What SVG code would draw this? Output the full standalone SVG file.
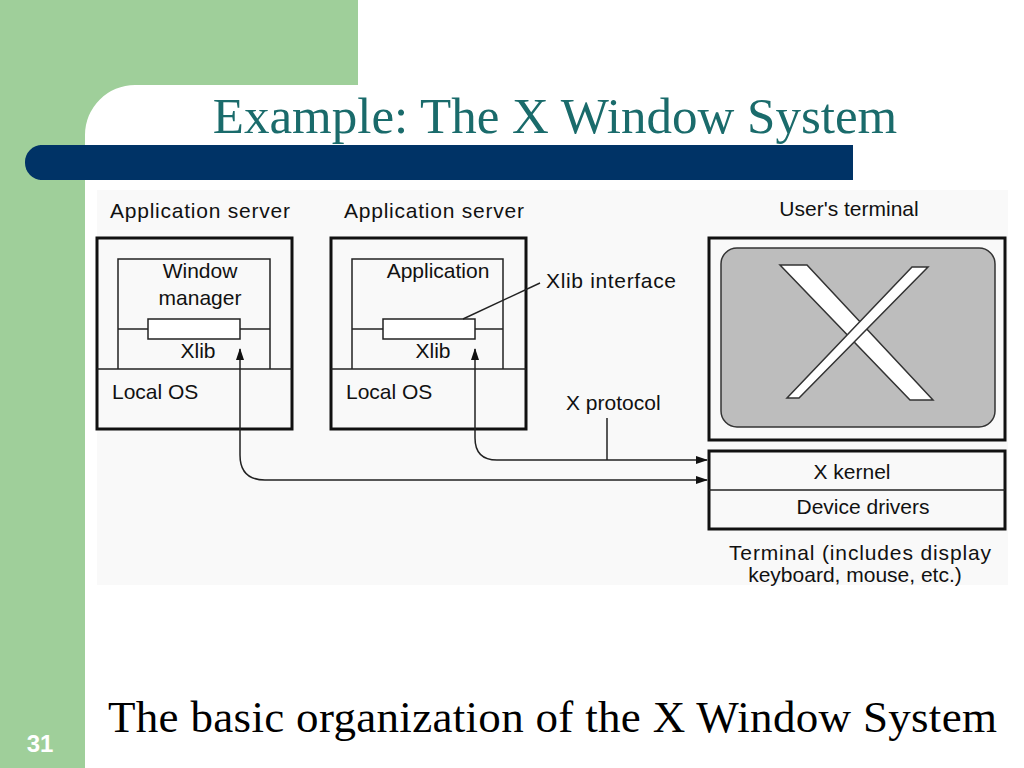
<svg xmlns="http://www.w3.org/2000/svg" width="1024" height="768" viewBox="0 0 1024 768">
<defs>
<marker id="ah" markerWidth="12" markerHeight="8" refX="11" refY="4" orient="auto-start-reverse" markerUnits="userSpaceOnUse"><path d="M0,0 L12,4 L0,8 Z" fill="#111"/></marker>
<style>
.t{font-family:"Liberation Sans",Arial,sans-serif;font-size:21px;fill:#111}
.b{fill:none;stroke:#111;stroke-width:3}
.thin{fill:none;stroke:#222;stroke-width:1.5}
.c{fill:none;stroke:#222;stroke-width:1.5}
</style>
</defs>
<rect width="1024" height="768" fill="#fff"/>
<rect x="0" y="0" width="358" height="85" fill="#9fcf9a"/>
<rect x="0" y="0" width="85" height="768" fill="#9fcf9a"/>
<path d="M85,85 L135,85 A50,50 0 0 0 85,135 Z" fill="#9fcf9a"/>
<rect x="25" y="145" width="828" height="35" rx="17" fill="#003366"/>
<rect x="40" y="145" width="813" height="35" fill="#003366"/>
<text x="555" y="133" text-anchor="middle" font-family="Liberation Serif,serif" font-size="51" fill="#1a6b6b">Example: The X Window System</text>
<rect x="97" y="190" width="911" height="395" fill="#f9f9f9"/>
<g id="server1">
<text class="t" x="110" y="218" textLength="180">Application server</text>
<rect class="b" x="97" y="238" width="195" height="191"/>
<line class="thin" x1="97" y1="369" x2="292" y2="369"/>
<path class="thin" d="M118,369 V259 H270 V369"/>
<line class="thin" x1="118" y1="329" x2="270" y2="329"/>
<rect x="148" y="319" width="92" height="20" fill="#fff" stroke="#222" stroke-width="1.5"/>
<text class="t" x="200" y="278" text-anchor="middle">Window</text>
<text class="t" x="200" y="305" text-anchor="middle">manager</text>
<text class="t" x="198" y="358" text-anchor="middle">Xlib</text>
<text class="t" x="112" y="399">Local OS</text>
</g>
<g id="server2">
<text class="t" x="344" y="218" textLength="180">Application server</text>
<rect class="b" x="331" y="238" width="195" height="191"/>
<line class="thin" x1="331" y1="369" x2="526" y2="369"/>
<path class="thin" d="M352,369 V259 H503 V369"/>
<line class="thin" x1="352" y1="329" x2="503" y2="329"/>
<rect x="383" y="319" width="92" height="20" fill="#fff" stroke="#222" stroke-width="1.5"/>
<text class="t" x="438" y="278" text-anchor="middle">Application</text>
<text class="t" x="433" y="358" text-anchor="middle">Xlib</text>
<text class="t" x="346" y="399">Local OS</text>
<line class="thin" x1="463" y1="319" x2="540" y2="283"/>
<text class="t" x="546" y="288" textLength="130">Xlib interface</text>
</g>
<g id="terminal">
<text class="t" x="849" y="216" text-anchor="middle">User's terminal</text>
<rect class="b" x="709" y="238" width="296" height="202"/>
<rect x="721" y="248" width="274" height="179" rx="16" fill="#bdbdbd" stroke="#333" stroke-width="1.5"/>
<polygon points="780,265 807,265 933,400 910,400" fill="#fff" stroke="#333" stroke-width="1.5"/>
<polygon points="912,267 928,267 799,398 787,398" fill="#fff" stroke="#333" stroke-width="1.5"/>
<rect class="b" x="709" y="451" width="296" height="78"/>
<line class="thin" x1="709" y1="490" x2="1005" y2="490"/>
<text class="t" x="852" y="479" text-anchor="middle">X kernel</text>
<text class="t" x="863" y="514" text-anchor="middle">Device drivers</text>
<text class="t" x="860" y="560" text-anchor="middle" textLength="262">Terminal (includes display</text>
<text class="t" x="855" y="582" text-anchor="middle">keyboard, mouse, etc.)</text>
</g>
<g id="connectors">
<path class="c" d="M240,349 V455 Q240,480 265,480 H707" marker-start="url(#ah)" marker-end="url(#ah)"/>
<path class="c" d="M475,349 V438 Q475,460 497,460 H707" marker-start="url(#ah)" marker-end="url(#ah)"/>
<line class="c" x1="607" y1="418" x2="607" y2="460"/>
<text class="t" x="566" y="410">X protocol</text>
</g>
<text x="108" y="732" font-family="Liberation Serif,serif" font-size="45" fill="#000" textLength="889">The basic organization of the X Window System</text>
<text x="40" y="752" text-anchor="middle" font-family="Liberation Sans,sans-serif" font-weight="bold" font-size="24" fill="#fff">31</text>
</svg>
